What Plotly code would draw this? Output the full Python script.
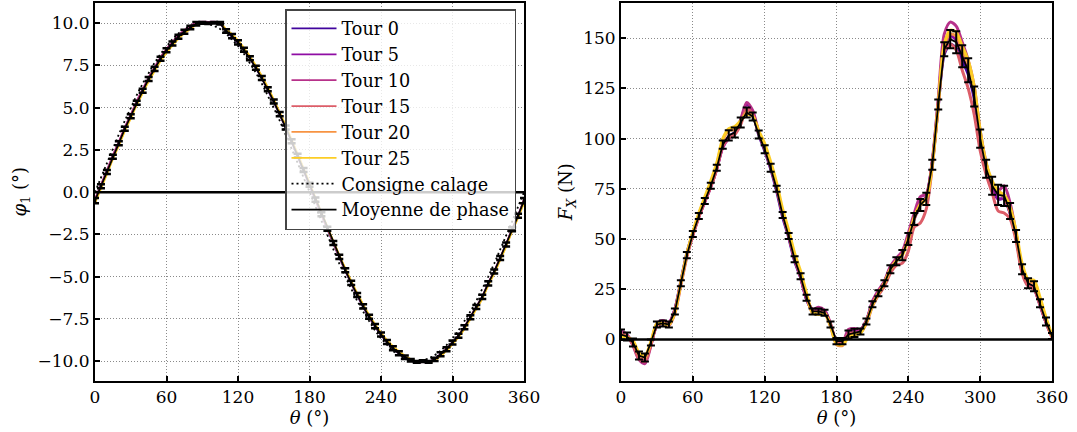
import plotly.graph_objects as go

# ---------------- data ----------------
THETA = list(range(0, 361, 5))
X_TICKS = [0, 60, 120, 180, 240, 300, 360]

TOUR_NAMES = ["Tour 0", "Tour 5", "Tour 10", "Tour 15", "Tour 20", "Tour 25"]
TOUR_COLORS = ["#41049d", "#8f0da4", "#b7318a", "#dc5d68", "#f79342", "#fccd25"]

# Left panel: phase phi_1 (deg)
CONSIGNE = [
    0.0, 0.87, 1.74, 2.59, 3.42, 4.23, 5.0, 5.74, 6.43, 7.07,
    7.66, 8.19, 8.66, 9.06, 9.4, 9.66, 9.85, 9.96, 10.0, 9.96,
    9.85, 9.66, 9.4, 9.06, 8.66, 8.19, 7.66, 7.07, 6.43, 5.74,
    5.0, 4.23, 3.42, 2.59, 1.74, 0.87, 0.0, -0.87, -1.74, -2.59,
    -3.42, -4.23, -5.0, -5.74, -6.43, -7.07, -7.66, -8.19, -8.66, -9.06,
    -9.4, -9.66, -9.85, -9.96, -10.0, -9.96, -9.85, -9.66, -9.4, -9.06,
    -8.66, -8.19, -7.66, -7.07, -6.43, -5.74, -5.0, -4.23, -3.42, -2.59,
    -1.74, -0.87, 0.0]

PHI_MEAN = [
    -0.5, 0.35, 1.2, 2.1, 2.9, 3.75, 4.5, 5.3, 6.0, 6.7,
    7.3, 7.9, 8.4, 8.8, 9.2, 9.5, 9.75, 9.97, 10.02, 10.0,
    10.03, 10.0, 9.54, 9.24, 8.87, 8.43, 7.93, 7.37, 6.76, 6.09,
    5.37, 4.62, 3.83, 3.01, 2.16, 1.31, 0.44, -0.44, -1.31, -2.16,
    -3.01, -3.83, -4.62, -5.37, -6.09, -6.76, -7.37, -7.93, -8.43, -8.87,
    -9.24, -9.54, -9.77, -9.95, -10.05, -10.0, -10.05, -9.9, -9.6, -9.3,
    -8.9, -8.5, -8.0, -7.4, -6.8, -6.2, -5.4, -4.7, -3.9, -3.1,
    -2.2, -1.4, -0.5]

PHI_ERR = [
    0.15, 0.12, 0.12, 0.12, 0.12, 0.12, 0.12, 0.12, 0.12, 0.12,
    0.12, 0.12, 0.12, 0.12, 0.12, 0.12, 0.1, 0.1, 0.05, 0.05,
    0.05, 0.08, 0.1, 0.12, 0.12, 0.12, 0.12, 0.12, 0.12, 0.12,
    0.12, 0.12, 0.12, 0.12, 0.12, 0.12, 0.12, 0.12, 0.12, 0.12,
    0.12, 0.12, 0.12, 0.12, 0.12, 0.12, 0.12, 0.12, 0.12, 0.12,
    0.12, 0.12, 0.1, 0.08, 0.05, 0.05, 0.05, 0.1, 0.12, 0.12,
    0.12, 0.12, 0.12, 0.12, 0.12, 0.12, 0.12, 0.12, 0.12, 0.12,
    0.12, 0.12, 0.15]

PHI_T0 = [
    -0.55, 0.3, 1.15, 2.05, 2.85, 3.7, 4.45, 5.25, 5.95, 6.65,
    7.25, 7.85, 8.35, 8.75, 9.15, 9.45, 9.7, 9.95, 10.0, 10.0,
    10.02, 9.98, 9.5, 9.2, 8.83, 8.4, 7.9, 7.33, 6.72, 6.05,
    5.33, 4.58, 3.79, 2.97, 2.12, 1.27, 0.4, -0.48, -1.35, -2.2,
    -3.05, -3.87, -4.66, -5.41, -6.13, -6.8, -7.41, -7.97, -8.47, -8.9,
    -9.27, -9.56, -9.8, -9.97, -10.07, -10.02, -10.07, -9.92, -9.63, -9.34,
    -8.94, -8.54, -8.04, -7.44, -6.84, -6.24, -5.44, -4.74, -3.94, -3.14,
    -2.24, -1.44, -0.55]
PHI_T5 = [
    -0.45, 0.4, 1.25, 2.15, 2.95, 3.8, 4.55, 5.35, 6.05, 6.75,
    7.35, 7.95, 8.45, 8.85, 9.25, 9.55, 9.8, 10.0, 10.05, 10.03,
    10.06, 10.02, 9.58, 9.28, 8.91, 8.47, 7.97, 7.41, 6.8, 6.13,
    5.41, 4.66, 3.87, 3.05, 2.2, 1.35, 0.48, -0.4, -1.27, -2.12,
    -2.97, -3.79, -4.58, -5.33, -6.05, -6.72, -7.33, -7.9, -8.4, -8.84,
    -9.21, -9.51, -9.74, -9.93, -10.03, -9.98, -10.02, -9.87, -9.57, -9.27,
    -8.87, -8.47, -7.97, -7.37, -6.77, -6.17, -5.37, -4.67, -3.87, -3.07,
    -2.17, -1.37, -0.45]
PHI_T10 = [
    -0.4, 0.45, 1.3, 2.2, 3.0, 3.85, 4.6, 5.4, 6.1, 6.8,
    7.4, 8.0, 8.5, 8.9, 9.3, 9.6, 9.85, 10.05, 10.1, 10.08,
    10.1, 10.05, 9.6, 9.3, 8.93, 8.49, 7.99, 7.43, 6.82, 6.15,
    5.43, 4.68, 3.89, 3.07, 2.22, 1.37, 0.5, -0.38, -1.25, -2.1,
    -2.95, -3.77, -4.56, -5.31, -6.03, -6.7, -7.31, -7.87, -8.37, -8.81,
    -9.18, -9.48, -9.72, -9.9, -10.1, -10.06, -10.1, -9.95, -9.65, -9.35,
    -8.95, -8.55, -8.05, -7.45, -6.85, -6.25, -5.45, -4.75, -3.95, -3.15,
    -2.25, -1.45, -0.4]
PHI_T15 = [
    -0.5, 0.33, 1.18, 2.08, 2.88, 3.73, 4.48, 5.28, 5.98, 6.68,
    7.28, 7.88, 8.38, 8.78, 9.18, 9.48, 9.73, 9.96, 10.02, 10.0,
    10.02, 10.0, 9.55, 9.25, 8.88, 8.44, 7.94, 7.38, 6.77, 6.1,
    5.38, 4.63, 3.84, 3.02, 2.17, 1.32, 0.45, -0.43, -1.3, -2.15,
    -3.0, -3.82, -4.61, -5.36, -6.08, -6.75, -7.36, -7.92, -8.42, -8.86,
    -9.23, -9.53, -9.76, -9.95, -10.05, -10.0, -10.05, -9.9, -9.6, -9.3,
    -8.9, -8.5, -8.0, -7.4, -6.8, -6.2, -5.4, -4.7, -3.9, -3.1,
    -2.2, -1.4, -0.5]
PHI_T20 = [
    -0.6, 0.25, 1.1, 2.0, 2.8, 3.65, 4.4, 5.2, 5.9, 6.6,
    7.2, 7.8, 8.3, 8.7, 9.1, 9.42, 9.68, 9.92, 10.0, 10.0,
    10.02, 10.02, 9.62, 9.33, 8.96, 8.52, 8.02, 7.46, 6.85, 6.18,
    5.46, 4.71, 3.92, 3.1, 2.25, 1.4, 0.53, -0.35, -1.22, -2.07,
    -2.92, -3.74, -4.53, -5.28, -6.0, -6.67, -7.28, -7.84, -8.34, -8.78,
    -9.15, -9.45, -9.7, -9.9, -10.03, -10.0, -10.05, -9.95, -9.68, -9.38,
    -8.98, -8.58, -8.08, -7.5, -6.9, -6.3, -5.5, -4.8, -4.0, -3.2,
    -2.3, -1.5, -0.6]
PHI_T25 = [
    -0.65, 0.2, 1.05, 1.95, 2.75, 3.6, 4.35, 5.15, 5.85, 6.55,
    7.15, 7.75, 8.25, 8.67, 9.07, 9.4, 9.66, 9.9, 10.0, 10.02,
    10.04, 10.03, 9.65, 9.36, 8.99, 8.55, 8.05, 7.49, 6.88, 6.21,
    5.49, 4.74, 3.95, 3.13, 2.28, 1.43, 0.56, -0.32, -1.19, -2.04,
    -2.89, -3.71, -4.5, -5.25, -5.97, -6.64, -7.25, -7.81, -8.31, -8.75,
    -9.12, -9.42, -9.68, -9.88, -10.02, -10.02, -10.06, -9.97, -9.7, -9.4,
    -9.0, -8.6, -8.1, -7.52, -6.92, -6.32, -5.52, -4.82, -4.02, -3.22,
    -2.32, -1.52, -0.65]

# Right panel: force F_X (N)
FX_MEAN = [
    2.5, 1.5, -1.5, -8, -9, -1.5, 7.5, 8, 7.5, 14,
    28, 42, 52.5, 61.5, 69, 76.5, 85.5, 97, 101.6, 103,
    108, 113, 111, 102, 94.7, 85.5, 75, 62, 51.5, 40,
    31.5, 20.8, 14, 14, 13.3, 7.5, -0.8, -0.8, 2.5, 3.3,
    4, 9, 17.5, 23, 28, 35, 39, 42, 50, 60,
    67, 70, 87, 117, 144.5, 149.5, 148, 141, 134, 121,
    100, 85, 76.5, 72, 71.5, 64, 51.5, 35, 28, 26.5,
    18, 9, 1.7]
FX_ERR = [
    2.5, 2, 2, 2, 2, 1.5, 1.5, 1.5, 1.5, 1.5,
    1.5, 1.5, 1.5, 1.5, 1.5, 1.5, 1.5, 2, 2.5, 2.5,
    2.5, 2.5, 2, 2, 2, 2, 1.5, 1.5, 1.5, 1.5,
    1.5, 1.5, 1.5, 1.5, 1.5, 1.5, 1.5, 1.5, 2, 2,
    1.5, 1.5, 1.5, 1.5, 1.5, 2, 2, 2.5, 3, 3,
    3, 3, 2.5, 2.5, 3.5, 4.5, 5.5, 5.5, 6, 5,
    4.5, 4.5, 4.5, 5, 5, 4, 3, 2.5, 2.5, 2.5,
    2, 2, 1.5]
FX_T0 = [
    2, 1, -2, -8.5, -9.5, -2, 7, 8, 8, 15,
    29, 43, 53, 62, 70, 77, 86, 96, 101, 103,
    109, 115, 112, 102, 94, 85, 74, 61, 51, 39,
    31, 20, 14.5, 15, 14, 7, -1, -1, 2.5, 3.5,
    4.5, 9.5, 18, 23.5, 28.5, 35.5, 39.5, 43, 51, 61,
    68, 71, 88, 116, 142, 147, 145, 139, 132, 120,
    99, 84, 75, 70, 70, 63, 51, 34, 27, 25.5,
    17, 8.5, 1.5]
FX_T5 = [
    3.5, 2, -2, -9, -10.5, -2.5, 7, 8.5, 8, 14.5,
    28, 42, 52, 61, 68.5, 76, 85, 96, 100.5, 102.5,
    109, 117, 113, 103, 95.5, 86, 75.5, 62.5, 52, 40,
    31, 20, 15, 15.5, 14.5, 7.5, -1, -1.5, 3.5, 4.5,
    4.5, 9, 18.5, 24, 28.5, 36, 40, 43, 51, 60,
    67, 71, 88, 118, 146, 151, 149, 142, 135, 122,
    101, 86, 76, 70, 70, 63, 51, 34.5, 27, 25,
    17.5, 8.5, 1.5]
FX_T10 = [
    4.5, 2.5, -3, -10, -12, -3, 8, 9.5, 8.5, 15,
    28.5, 42, 52, 61, 68.5, 76, 85, 95.5, 100, 102.5,
    109.5, 118, 114, 103.5, 96, 86.5, 76, 63, 52, 40,
    31.5, 20.5, 15, 16, 14.5, 8, -1.5, -1.5, 5, 5.5,
    5, 9.5, 19, 24.5, 29, 36.5, 40.5, 44, 53, 63,
    71, 72.5, 89, 120, 152, 158, 156, 148, 139, 126,
    104, 88, 77, 74, 76.5, 68, 53, 35, 28, 26,
    18, 9, 2]
FX_T15 = [
    3, 1.5, -2.5, -9.5, -11, -2.5, 7, 8, 7, 13,
    27, 41, 52, 61, 69, 76, 85, 96.5, 100.5, 102,
    107, 115, 112, 102.5, 95, 86, 75.5, 62.5, 52, 40.5,
    31.5, 21, 14, 14, 13.5, 7.5, -1.5, -2, 3, 3.5,
    3.5, 8, 16.5, 22, 26.5, 33, 37, 38, 44, 56,
    58, 65, 86, 116, 143, 147, 144, 134, 125, 112,
    94, 82, 73, 64, 63, 60, 49, 33, 26.5, 25,
    17, 8.5, 1]
FX_T20 = [
    2, 1.5, -1, -7.5, -9, -1.5, 7.5, 8, 7.5, 14,
    28.5, 42.5, 53, 62, 70, 77.5, 87, 99, 104, 104.5,
    108.5, 113, 111.5, 103.5, 96.5, 87, 76.5, 63.5, 53, 41.5,
    33, 22, 13, 13, 13, 6.5, -2.5, -3, 1.5, 2.5,
    3.5, 9, 17, 23, 28, 35, 39.5, 42.5, 51, 61,
    67.5, 70.5, 87.5, 117, 146, 152, 151, 144, 137, 124,
    103, 87, 78.5, 73, 71, 63.5, 51.5, 36, 29, 28,
    20, 10, 1.5]
FX_T25 = [
    1.5, 1, -0.5, -6.5, -8, -1, 8, 8, 7.5, 13.5,
    28, 42.5, 53.5, 63, 71, 79, 88, 100, 105, 106,
    109, 112, 111, 104, 97.5, 88.5, 78, 65, 54.5, 43,
    34, 23, 13.5, 12.5, 13, 7, -2, -2.5, 1, 2.5,
    3, 8.5, 17, 23, 28, 35, 39, 42, 50, 60.5,
    67, 70, 87, 117, 147, 154, 153, 146, 139, 126,
    104, 88, 79, 74, 72, 66, 54, 38, 30, 29.5,
    21, 11, 2]

PHI_TOURS = [PHI_T0, PHI_T5, PHI_T10, PHI_T15, PHI_T20, PHI_T25]
FX_TOURS = [FX_T0, FX_T5, FX_T10, FX_T15, FX_T20, FX_T25]

for arr in [CONSIGNE, PHI_MEAN, PHI_ERR, FX_MEAN, FX_ERR] + PHI_TOURS + FX_TOURS:
    assert len(arr) == len(THETA), len(arr)

# ---------------- figure ----------------
FONT = "DejaVu Serif"
W, H = 1077, 432
fig = go.Figure()

for name, color, phi in zip(TOUR_NAMES, TOUR_COLORS, PHI_TOURS):
    fig.add_trace(go.Scatter(
        x=THETA, y=phi, mode="lines", name=name, legendgroup=name,
        line=dict(color=color, width=1.8, shape="spline", smoothing=0.6),
        xaxis="x", yaxis="y"))

fig.add_trace(go.Scatter(
    x=THETA, y=CONSIGNE, mode="lines", name="Consigne calage",
    legendgroup="consigne",
    line=dict(color="black", width=1.8, dash="2px,3px"),
    xaxis="x", yaxis="y"))

fig.add_trace(go.Scatter(
    x=THETA, y=PHI_MEAN, mode="lines", name="Moyenne de phase",
    legendgroup="moyenne",
    line=dict(color="black", width=1.8),
    error_y=dict(type="data", array=PHI_ERR, visible=True,
                 color="black", thickness=2.5, width=4),
    xaxis="x", yaxis="y"))

for name, color, fx in zip(TOUR_NAMES, TOUR_COLORS, FX_TOURS):
    fig.add_trace(go.Scatter(
        x=THETA, y=fx, mode="lines", name=name, showlegend=False,
        line=dict(color=color, width=3, shape="spline", smoothing=0.8),
        xaxis="x2", yaxis="y2"))

fig.add_trace(go.Scatter(
    x=THETA, y=FX_MEAN, mode="lines", name="Moyenne de phase",
    showlegend=False,
    line=dict(color="black", width=1.8),
    error_y=dict(type="data", array=FX_ERR, visible=True,
                 color="black", thickness=2, width=4),
    xaxis="x2", yaxis="y2"))

for yref, xd in (("y", "x domain"), ("y2", "x2 domain")):
    fig.add_shape(type="line", xref=xd, yref=yref, x0=0, x1=1, y0=0, y1=0,
                  line=dict(color="black", width=2.5))

axis_common = dict(
    showline=True, linewidth=2, linecolor="black", mirror=True,
    ticks="inside", ticklen=5, tickwidth=1.5, tickcolor="black",
    showgrid=True, gridcolor="#8a8a8a", griddash="1px,2px", gridwidth=1,
    zeroline=False, automargin=False,
    tickfont=dict(family=FONT, size=17, color="black"),
)
title_font = dict(family=FONT, size=18, color="black")

ydom = [1 - 380.5 / H, 1 - 3 / H]
fig.update_layout(
    width=W, height=H,
    margin=dict(l=0, r=0, t=0, b=0),
    paper_bgcolor="white", plot_bgcolor="white",
    font=dict(family=FONT, size=17, color="black"),
    xaxis=dict(domain=[95 / W, 524 / W], range=[0, 360], tickvals=X_TICKS,
               anchor="y",
               title=dict(text="<i>θ</i> (°)", font=title_font, standoff=4),
               **axis_common),
    yaxis=dict(domain=ydom, range=[-11.15, 11.2], tick0=0, dtick=2.5,
               tickformat=".1f", anchor="x",
               title=dict(text="<i>φ</i><sub>1</sub> (°)", font=title_font,
                          standoff=6),
               **axis_common),
    xaxis2=dict(domain=[621 / W, 1052 / W], range=[0, 360], tickvals=X_TICKS,
                anchor="y2",
                title=dict(text="<i>θ</i> (°)", font=title_font, standoff=4),
                **axis_common),
    yaxis2=dict(domain=ydom, range=[-20.4, 167.5], tick0=0, dtick=25,
                anchor="x2",
                title=dict(text="<i>F</i><sub><i>X</i></sub> (N)",
                           font=title_font, standoff=6),
                **axis_common),
    legend=dict(x=285 / W, y=1 - 9 / H, xanchor="left", yanchor="top",
                bgcolor="rgba(255,255,255,0.8)", bordercolor="#444444",
                borderwidth=1.5, font=dict(family=FONT, size=17.6, color="black"),
                tracegroupgap=4.5, traceorder="normal", itemwidth=45),
    showlegend=True,
)

fig.write_html(
    "out.html",
    config={"displayModeBar": False},
    post_script="document.body.style.margin='0';document.body.style.overflow='hidden';",
)
